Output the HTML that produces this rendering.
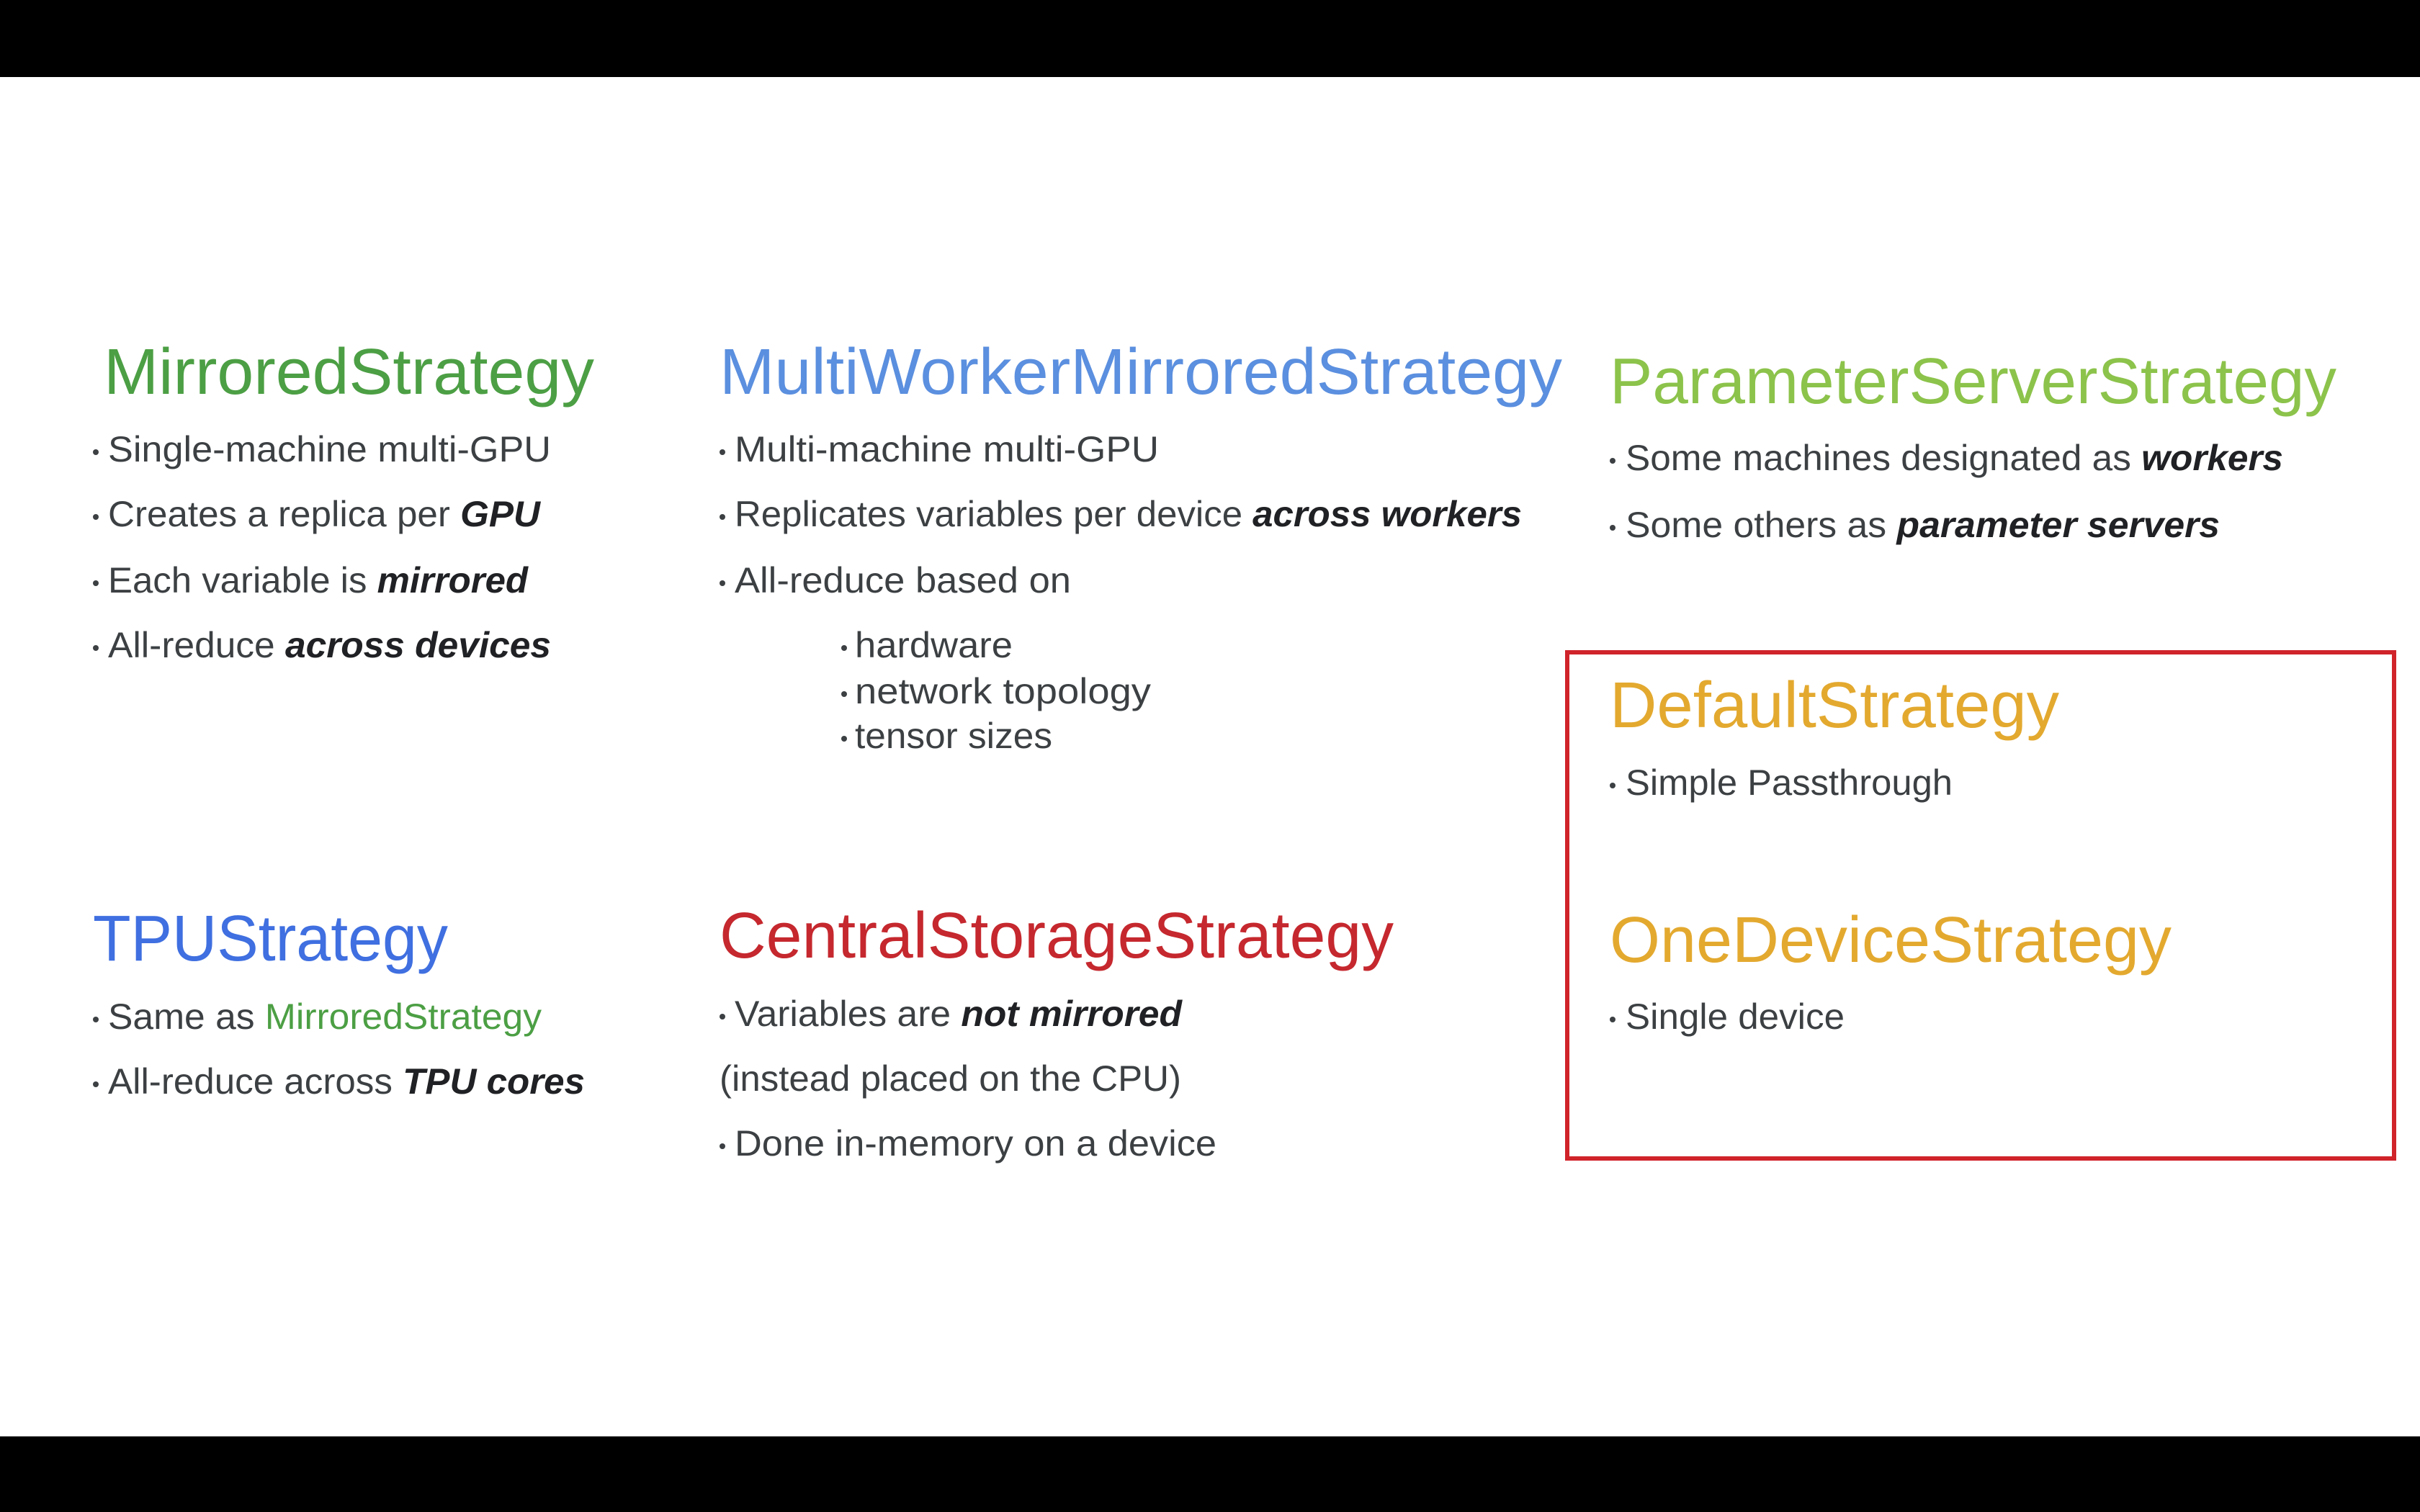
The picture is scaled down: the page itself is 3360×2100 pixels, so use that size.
<!DOCTYPE html>
<html><head><meta charset="utf-8"><style>
html,body{margin:0;padding:0;background:#fff;}
svg{display:block;}
text{font-family:"Liberation Sans",sans-serif;}
.t{font-size:90px;}
.b{font-size:50px;fill:#3c4043;}
.x{font-weight:bold;font-style:italic;fill:#202124;}
</style></head><body>
<svg width="3360" height="2100" viewBox="0 0 3360 2100" xmlns="http://www.w3.org/2000/svg">
<rect x="0" y="0" width="3360" height="2100" fill="#fff"/>
<rect x="0" y="0" width="3360" height="107" fill="#000"/>
<rect x="0" y="1995" width="3360" height="105" fill="#000"/>

<rect x="2176" y="906" width="1148" height="703" fill="none" stroke="#d0232a" stroke-width="6"/>

<!-- Col1 -->
<text class="t" x="144" y="547" fill="#4c9f44" textLength="681" lengthAdjust="spacingAndGlyphs">MirroredStrategy</text>
<g fill="#3c4043">
<circle cx="133" cy="628" r="4"/><circle cx="133" cy="718" r="4"/><circle cx="133" cy="810" r="4"/><circle cx="133" cy="900" r="4"/>
</g>
<text class="b" x="150" y="641" textLength="615" lengthAdjust="spacingAndGlyphs">Single-machine multi-GPU</text>
<text class="b" x="150" y="731" textLength="600" lengthAdjust="spacingAndGlyphs">Creates a replica per <tspan class="x">GPU</tspan></text>
<text class="b" x="150" y="823" textLength="583" lengthAdjust="spacingAndGlyphs">Each variable is <tspan class="x">mirrored</tspan></text>
<text class="b" x="150" y="913" textLength="615" lengthAdjust="spacingAndGlyphs">All-reduce <tspan class="x">across devices</tspan></text>

<!-- Col2 -->
<text class="t" x="999" y="547" fill="#5b8fdf" textLength="1170" lengthAdjust="spacingAndGlyphs">MultiWorkerMirroredStrategy</text>
<g fill="#3c4043">
<circle cx="1003" cy="628" r="4"/><circle cx="1003" cy="718" r="4"/><circle cx="1003" cy="810" r="4"/>
<circle cx="1172" cy="900" r="4"/><circle cx="1172" cy="964" r="4"/><circle cx="1172" cy="1026" r="4"/>
</g>
<text class="b" x="1020" y="641" textLength="589" lengthAdjust="spacingAndGlyphs">Multi-machine multi-GPU</text>
<text class="b" x="1020" y="731" textLength="1093" lengthAdjust="spacingAndGlyphs">Replicates variables per device <tspan class="x">across workers</tspan></text>
<text class="b" x="1020" y="823" textLength="467" lengthAdjust="spacingAndGlyphs">All-reduce based on</text>
<text class="b" x="1187" y="913" textLength="219" lengthAdjust="spacingAndGlyphs">hardware</text>
<text class="b" x="1187" y="977" textLength="411" lengthAdjust="spacingAndGlyphs">network topology</text>
<text class="b" x="1187" y="1039" textLength="274" lengthAdjust="spacingAndGlyphs">tensor sizes</text>

<!-- Col3 -->
<text class="t" x="2235" y="560" fill="#8cc34b" textLength="1009" lengthAdjust="spacingAndGlyphs">ParameterServerStrategy</text>
<g fill="#3c4043">
<circle cx="2239" cy="640" r="4"/><circle cx="2239" cy="733" r="4"/>
<circle cx="2239" cy="1091" r="4"/><circle cx="2239" cy="1416" r="4"/>
</g>
<text class="b" x="2257" y="653" textLength="913" lengthAdjust="spacingAndGlyphs">Some machines designated as <tspan class="x">workers</tspan></text>
<text class="b" x="2257" y="746" textLength="825" lengthAdjust="spacingAndGlyphs">Some others as <tspan class="x">parameter servers</tspan></text>

<text class="t" x="2235" y="1010" fill="#e3a92f" textLength="624" lengthAdjust="spacingAndGlyphs">DefaultStrategy</text>
<text class="b" x="2257" y="1104" textLength="454" lengthAdjust="spacingAndGlyphs">Simple Passthrough</text>
<text class="t" x="2235" y="1336" fill="#e3a92f" textLength="780" lengthAdjust="spacingAndGlyphs">OneDeviceStrategy</text>
<text class="b" x="2257" y="1429" textLength="304" lengthAdjust="spacingAndGlyphs">Single device</text>

<!-- Row2 col1 -->
<text class="t" x="129" y="1334" fill="#3f6fe0" textLength="493" lengthAdjust="spacingAndGlyphs">TPUStrategy</text>
<g fill="#3c4043">
<circle cx="133" cy="1416" r="4"/><circle cx="133" cy="1506" r="4"/>
<circle cx="1003" cy="1412" r="4"/><circle cx="1003" cy="1592" r="4"/>
</g>
<text class="b" x="150" y="1429" textLength="602" lengthAdjust="spacingAndGlyphs">Same as <tspan fill="#4c9f44">MirroredStrategy</tspan></text>
<text class="b" x="150" y="1519" textLength="662" lengthAdjust="spacingAndGlyphs">All-reduce across <tspan class="x">TPU cores</tspan></text>

<!-- Row2 col2 -->
<text class="t" x="999" y="1330" fill="#c5282e" textLength="936" lengthAdjust="spacingAndGlyphs">CentralStorageStrategy</text>
<text class="b" x="1020" y="1425" textLength="621" lengthAdjust="spacingAndGlyphs">Variables are <tspan class="x">not mirrored</tspan></text>
<text class="b" x="999" y="1515" textLength="641" lengthAdjust="spacingAndGlyphs">(instead placed on the CPU)</text>
<text class="b" x="1020" y="1605" textLength="669" lengthAdjust="spacingAndGlyphs">Done in-memory on a device</text>
</svg>
</body></html>
